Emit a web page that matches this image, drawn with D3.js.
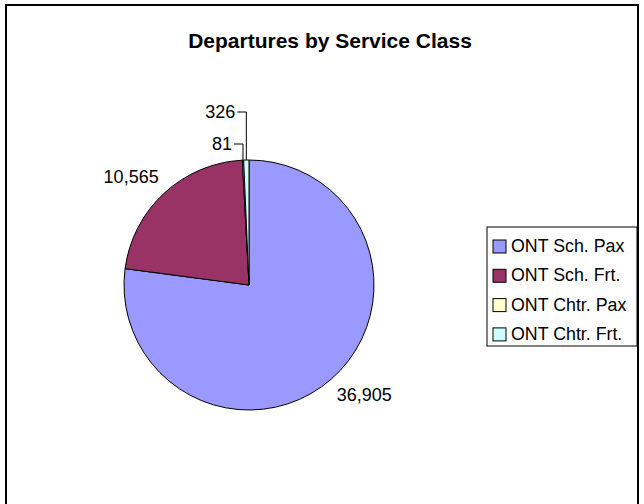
<!DOCTYPE html>
<html>
<head>
<meta charset="utf-8">
<script src="https://cdn.jsdelivr.net/npm/d3@7"></script>
<style>
  body { margin: 0; background: #fff; }
  text { font-family: "Liberation Sans", Arial, sans-serif; }
</style>
</head>
<body>
<div id="chart"></div>
<script>
// data
var categories = ["ONT Sch. Pax", "ONT Sch. Frt.", "ONT Chtr. Pax", "ONT Chtr. Frt."];
var values = [36905, 10565, 81, 326];
var colors = ["#9999ff", "#993366", "#ffffcc", "#ccffff"];
var title = "Departures by Service Class";

var width = 644, height = 504;
var cx = 249, cy = 285, radius = 125;

var svg = d3.select("#chart")
    .append("svg")
    .attr("width", width)
    .attr("height", height);

// chart area border
svg.append("rect")
    .attr("x", 6).attr("y", 5)
    .attr("width", 632).attr("height", 520)
    .style("fill", "#fff")
    .style("stroke", "#000")
    .style("stroke-width", 2);

svg.append("text")
    .attr("x", 330)
    .attr("y", 48)
    .attr("text-anchor", "middle")
    .style("font-size", "21px")
    .style("font-weight", "bold")
    .text(title);

var pie = d3.pie().sort(null).value(function(d) { return d; });
var arcs = pie(values);
var arc = d3.arc().innerRadius(0).outerRadius(radius);

var g = svg.append("g").attr("transform", "translate(" + cx + "," + cy + ")");

g.selectAll(".slice")
    .data(arcs)
    .enter().append("path")
    .attr("class", "slice")
    .attr("d", arc)
    .style("fill", function(d, i) { return colors[i]; })
    .style("stroke", "#000")
    .style("stroke-width", 1);

function fmt(v) { return d3.format(",")(v); }

// labels: big slices sit just outside the edge, small ones are pulled up with a leader
function edgePoint(d, r) {
    var a = (d.startAngle + d.endAngle) / 2;
    return [r * Math.sin(a), -r * Math.cos(a)];
}

arcs.forEach(function(d, i) {
    var share = (d.endAngle - d.startAngle);
    var p = edgePoint(d, radius);
    if (share > 0.2) {
        var q = edgePoint(d, radius + 8);
        var right = q[0] > 0, below = q[1] > 0;
        g.append("text")
            .attr("x", q[0])
            .attr("y", below ? q[1] + 16 : q[1] - 4)
            .attr("text-anchor", right ? "start" : "end")
            .style("font-size", "18px")
            .text(fmt(values[i]));
    } else {
        // leader up from the rim then left to the label
        var ly = (i == 2) ? -141 : -173;
        var lx = p[0] - 9;
        g.append("path")
            .attr("d", "M" + p[0] + "," + p[1] + "V" + ly + "H" + lx)
            .style("fill", "none")
            .style("stroke", "#000")
            .style("stroke-width", 1);
        g.append("text")
            .attr("x", lx - 2)
            .attr("y", ly + 6)
            .attr("text-anchor", "end")
            .style("font-size", "18px")
            .text(fmt(values[i]));
    }
});

// legend
var legend = svg.append("g").attr("transform", "translate(487,227)");
legend.append("rect")
    .attr("width", 150).attr("height", 119)
    .style("fill", "#fff")
    .style("stroke", "#000")
    .style("stroke-width", 1);

var item = legend.selectAll(".item")
    .data(categories)
    .enter().append("g")
    .attr("class", "item")
    .attr("transform", function(d, i) { return "translate(0," + (25 + i * 29.3) + ")"; });

item.append("rect")
    .attr("x", 6).attr("y", -12)
    .attr("width", 13).attr("height", 13)
    .style("fill", function(d, i) { return colors[i]; })
    .style("stroke", "#000")
    .style("stroke-width", 1);

item.append("text")
    .attr("x", 24)
    .attr("y", 0)
    .style("font-size", "17.8px")
    .text(function(d) { return d; });
</script>
</body>
</html>
